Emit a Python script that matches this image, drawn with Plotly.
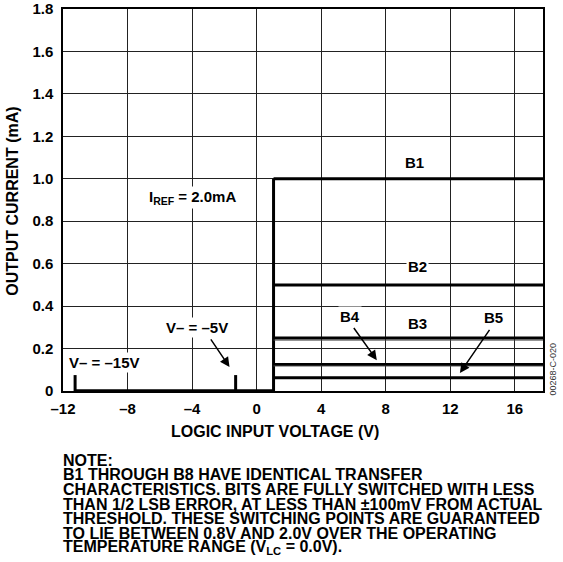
import plotly.graph_objects as go

# ---- data ----
x_ticks = [-12, -8, -4, 0, 4, 8, 12, 16]
x_tick_labels = ["–12", "–8", "–4", "0", "4", "8", "12", "16"]
y_ticks = [0, 0.2, 0.4, 0.6, 0.8, 1.0, 1.2, 1.4, 1.6, 1.8]
y_tick_labels = ["0", "0.2", "0.4", "0.6", "0.8", "1.0", "1.2", "1.4", "1.6", "1.8"]

switch_v = 1.05          # threshold (V)
x_left_end = -11.25      # start of low-state line (V- = -15V)
x_right_end = 17.75      # right end of the plot
bit_names = ["B1", "B2", "B3", "B4", "B5"]
bit_currents = [1.0, 0.5, 0.25, 0.125, 0.0625]   # mA
minor_currents = [0.24, 0.118]                   # faint secondary lines
vminus_marks_x = [-11.25, -1.3]                  # V- = -15V, V- = -5V
vminus_mark_h = 0.075

FONT = "Liberation Sans, Arial, sans-serif"

fig = go.Figure()

def seg(xs, ys, width, color="black"):
    fig.add_trace(go.Scatter(x=xs, y=ys, mode="lines",
                             line=dict(color=color, width=width),
                             cliponaxis=False, hoverinfo="skip", showlegend=False))

seg([x_left_end, switch_v], [0, 0], 3.5)
seg([switch_v, switch_v], [0, bit_currents[0]], 3)
for c in bit_currents:
    seg([switch_v, x_right_end], [c, c], 3)
for c in minor_currents:
    seg([switch_v, x_right_end], [c, c], 1, "#444")
for xm in vminus_marks_x:
    seg([xm, xm], [0, vminus_mark_h], 3)

lab_font = dict(family=FONT, size=15, color="black")

labels = [
    ("B1", 9.8, 1.075),
    ("B2", 10.0, 0.588),
    ("B3", 10.0, 0.32),
    ("B4", 5.8, 0.35),
    ("B5", 14.7, 0.345),
    ("I<sub>REF</sub> = 2.0mA", -4.0, 0.91),
    ("V– = –5V", -3.7, 0.30),
    ("V– = –15V", -9.45, 0.135),
]
for t, x, y in labels:
    fig.add_annotation(x=x, y=y, text="<b>" + t + "</b>", showarrow=False, font=lab_font,
                       bgcolor="white", borderpad=1)

arrows = [  # (tail x, tail y, head x, head y)
    (5.96, 0.304, 7.45, 0.145),
    (14.5, 0.295, 12.6, 0.085),
    (-2.9, 0.25, -1.68, 0.113),
]
for tx, ty, hx, hy in arrows:
    fig.add_annotation(x=hx, y=hy, ax=tx, ay=ty, axref="x", ayref="y",
                       xref="x", yref="y", text="", showarrow=True,
                       arrowhead=2, arrowsize=1.3, arrowwidth=1.5, arrowcolor="black")

note_lines = [
    "NOTE:",
    "B1 THROUGH B8 HAVE IDENTICAL TRANSFER",
    "CHARACTERISTICS. BITS ARE FULLY SWITCHED WITH LESS",
    "THAN 1/2 LSB ERROR, AT LESS THAN ±100mV FROM ACTUAL",
    "THRESHOLD. THESE SWITCHING POINTS ARE GUARANTEED",
    "TO LIE BETWEEN 0.8V AND 2.0V OVER THE OPERATING",
    "TEMPERATURE RANGE (V<sub>LC</sub> = 0.0V).",
]
PLOT_H = 382.5
for i, ln in enumerate(note_lines):
    py = 461 + i * 14.6
    fig.add_annotation(xref="paper", yref="paper", x=(61 - 63) / 480,
                       y=(391.5 - py) / PLOT_H,
                       xanchor="left", yanchor="middle", text="<b>" + ln + "</b>",
                       showarrow=False, font=dict(family=FONT, size=16, color="black"))

# axis titles
fig.add_annotation(xref="paper", yref="paper", x=(275 - 63) / 480, y=(391.5 - 432) / PLOT_H,
                   text="<b>LOGIC INPUT VOLTAGE (V)</b>", showarrow=False,
                   xanchor="center", yanchor="middle", font=dict(family=FONT, size=16, color="black"))
fig.add_annotation(xref="paper", yref="paper", x=(13 - 63) / 480, y=(391.5 - 202) / PLOT_H,
                   text="<b>OUTPUT CURRENT (mA)</b>", showarrow=False, textangle=-90,
                   xanchor="center", yanchor="middle", font=dict(family=FONT, size=16, color="black"))

fig.add_annotation(xref="paper", yref="paper", x=(553 - 63) / 480, y=(391.5 - 370) / PLOT_H,
                   text="00268-C-020", textangle=-90, showarrow=False,
                   xanchor="center", yanchor="middle",
                   font=dict(family=FONT, size=9, color="#333"))

axis_common = dict(showline=True, linecolor="black", linewidth=1.5, mirror=True,
                   showgrid=True, gridcolor="#222", gridwidth=1, zeroline=False,
                   ticks="", automargin=False,
                   tickfont=dict(family=FONT, size=15, color="black"))

fig.update_xaxes(range=[-12, x_right_end], tickvals=x_ticks,
                 ticktext=["<b>" + t + "</b>" for t in x_tick_labels],
                 ticklabelstandoff=3, **axis_common)
fig.update_yaxes(range=[0, 1.8], tickvals=y_ticks,
                 ticktext=["<b>" + t + "</b>" for t in y_tick_labels],
                 ticklabelstandoff=5, **axis_common)

fig.update_layout(width=563, height=562, margin=dict(l=63, r=20, t=9, b=170.5),
                  plot_bgcolor="white", paper_bgcolor="white", showlegend=False)

fig.write_html("out.html", config={"displayModeBar": False},
               post_script="document.body.style.margin='0px';")
